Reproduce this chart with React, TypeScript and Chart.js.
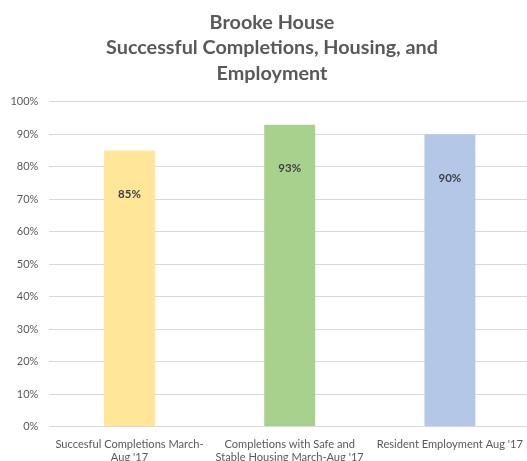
import React, { useEffect, useRef } from "react";
import { Chart, registerables } from "chart.js";

Chart.register(...registerables);

const titleLines = ["Brooke House", "Successful Completions, Housing, and", "Employment"];
const categories: string[][] = [
  ["Succesful Completions March-", "Aug '17"],
  ["Completions with Safe and", "Stable Housing March-Aug '17"],
  ["Resident Employment Aug '17"],
];
const values = [0.85, 0.93, 0.9];
const barColors = ["#FFE699", "#A9D18E", "#B4C7E7"];
const yMin = 0;
const yMax = 1;
const yStep = 0.1;

const FONT = "Lato, 'Open Sans', sans-serif";

const dataLabelPlugin = {
  id: "dataLabels",
  afterLayout(chart: any) {
    // let the y tick labels use the space left of the axis box
    if (chart.scales.y) chart.scales.y.left = 0;
  },
  afterDatasetsDraw(chart: any) {
    const ctx = chart.ctx;
    const meta = chart.getDatasetMeta(0);
    ctx.save();
    ctx.font = `bold 11.5px ${FONT}`;
    ctx.fillStyle = "#404040";
    ctx.textAlign = "center";
    ctx.textBaseline = "middle";
    meta.data.forEach((bar: any, i: number) => {
      const v = chart.data.datasets[0].data[i] as number;
      ctx.fillText(`${Math.round(v * 100)}%`, bar.x, bar.y + 44);
    });
    ctx.restore();
  },
};

export default function App() {
  const ref = useRef<HTMLCanvasElement | null>(null);

  useEffect(() => {
    document.body.style.margin = "0";
    document.body.style.overflow = "hidden";
    if (!ref.current) return;
    const chart = new Chart(ref.current, {
      type: "bar",
      data: {
        labels: categories,
        datasets: [
          {
            data: values,
            backgroundColor: barColors,
            borderWidth: 0,
            categoryPercentage: 1,
            barPercentage: 0.318,
          },
        ],
      },
      options: {
        animation: false,
        responsive: false,
        devicePixelRatio: 1,
        layout: { padding: { top: 0, left: 14, right: 0, bottom: 0 } },
        plugins: {
          legend: { display: false },
          tooltip: { enabled: false },
          title: {
            display: true,
            text: titleLines,
            color: "#595959",
            font: { family: FONT, size: 19.8, weight: "bold", lineHeight: 1.278 },
            padding: { top: 10, bottom: 16 },
          },
        },
        scales: {
          x: {
            grid: { display: false },
            border: { display: false },
            ticks: {
              color: "#595959",
              font: { family: FONT, size: 11.1, lineHeight: 1.2 },
              maxRotation: 0,
              minRotation: 0,
              autoSkip: false,
              padding: 3,
            },
            afterFit(scale: any) {
              scale.height = 34.5;
              scale.paddingLeft = 0;
              scale.paddingRight = 0;
            },
          },
          y: {
            min: yMin,
            max: yMax,
            grid: { color: "#D9D9D9", lineWidth: 1, drawTicks: false },
            border: { display: false },
            ticks: {
              stepSize: yStep,
              color: "#595959",
              font: { family: FONT, size: 11 },
              padding: 11,
              callback: (v: any) => `${Math.round(Number(v) * 100)}%`,
            },
            afterFit(scale: any) {
              scale.width = 35.4;
              scale.paddingTop = 0;
              scale.paddingBottom = 0;
            },
          },
        },
      },
      plugins: [dataLabelPlugin],
    });
    return () => chart.destroy();
  }, []);

  return (
    <div style={{ width: 527, height: 461, overflow: "hidden", background: "#fff" }}>
      <canvas ref={ref} width={530} height={461} style={{ width: 530, height: 461, display: "block" }} />
    </div>
  );
}
